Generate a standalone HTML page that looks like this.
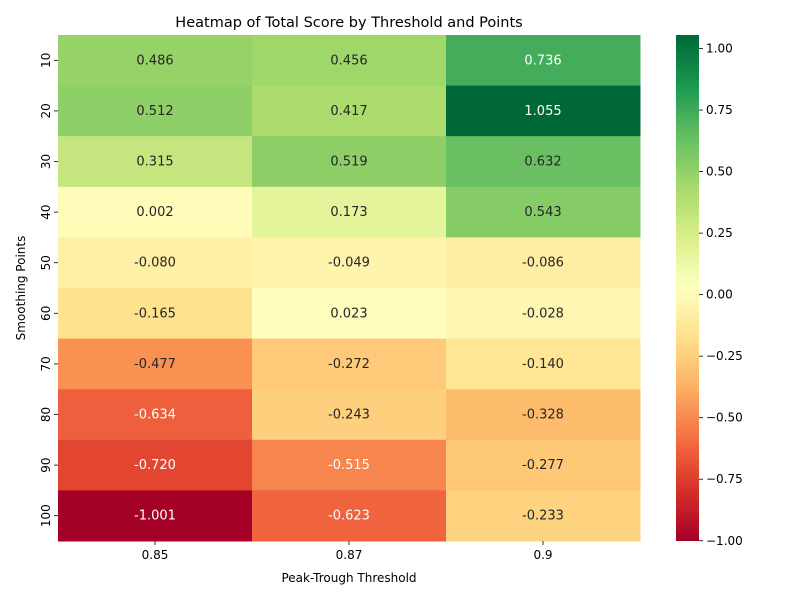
<!DOCTYPE html>
<html><head><meta charset="utf-8">
<style>
body{margin:0;background:#fff;font-family:"Liberation Sans","DejaVu Sans",sans-serif;}
svg text{font-family:"DejaVu Sans","Liberation Sans",sans-serif;}
</style></head>
<body>
<svg id="chart" width="800" height="600" xmlns="http://www.w3.org/2000/svg">
<rect width="800" height="600" fill="#fff"/>
<text x="349" y="27" font-size="14.5" text-anchor="middle">Heatmap of Total Score by Threshold and Points</text>
<text x="349" y="582" font-size="12" text-anchor="middle">Peak-Trough Threshold</text>
<text x="0" y="0" font-size="12" text-anchor="middle" transform="translate(25,288) rotate(-90)">Smoothing Points</text>
<g id="cells"></g>
<g id="xticks"></g>
<g id="yticks"></g>
<defs><linearGradient id="cbgrad" x1="0" y1="1" x2="0" y2="0"></linearGradient></defs>
<rect x="676" y="35" width="23" height="506" fill="url(#cbgrad)"/>
<g id="cbticks"></g>
</svg>
<script>
const thresholds = ["0.85","0.87","0.9"];
const points = ["10","20","30","40","50","60","70","80","90","100"];
const col085 = [0.486,0.512,0.315,0.002,-0.080,-0.165,-0.477,-0.634,-0.720,-1.001];
const col087 = [0.456,0.417,0.519,0.173,-0.049,0.023,-0.272,-0.243,-0.515,-0.623];
const col090 = [0.736,1.055,0.632,0.543,-0.086,-0.028,-0.140,-0.328,-0.277,-0.233];
const cbTicks = [1.00,0.75,0.50,0.25,0.00,-0.25,-0.50,-0.75,-1.00];

const columns=[col085,col087,col090];
const all=columns.flat();
const vmin=Math.min(...all), vmax=Math.max(...all);
const X0=58,X1=640,Y0=35,Y1=541;
const cw=(X1-X0)/thresholds.length, rh=(Y1-Y0)/points.length;
const NS="http://www.w3.org/2000/svg";
const stops=["#a50026","#d73027","#f46d43","#fdae61","#fee08b","#ffffbf","#d9ef8b","#a6d96a","#66bd63","#1a9850","#006837"].map(h=>[parseInt(h.slice(1,3),16),parseInt(h.slice(3,5),16),parseInt(h.slice(5,7),16)]);
function cmap(t){t=Math.max(0,Math.min(1,t));const p=t*10,i=Math.min(9,Math.floor(p)),f=p-i;
 return stops[i].map((c,k)=>Math.round(c+(stops[i+1][k]-c)*f));}
function lum(rgb){const c=rgb.map(v=>{v/=255;return v<=0.03928?v/12.92:Math.pow((v+0.055)/1.055,2.4)});return 0.2126*c[0]+0.7152*c[1]+0.0722*c[2];}
function mk(tag,attrs,parent){const e=document.createElementNS(NS,tag);for(const k in attrs)e.setAttribute(k,attrs[k]);parent.appendChild(e);return e;}
const xScale=i=>X0+i*cw, yScale=j=>Y0+j*rh, cbY=v=>Y1-(v-vmin)/(vmax-vmin)*(Y1-Y0);
const cells=document.getElementById('cells');
columns.forEach((col,i)=>col.forEach((v,j)=>{
 const rgb=cmap((v-vmin)/(vmax-vmin));
 const r=mk('rect',{x:xScale(i),y:yScale(j),width:cw+0.5,height:rh+0.5,fill:`rgb(${rgb})`},cells);
 
 
 const t=mk('text',{x:xScale(i)+cw/2,y:yScale(j)+rh/2+4,'font-size':13,'text-anchor':'middle',fill:lum(rgb)>0.408?'#262626':'#fff'},cells);
 t.textContent=v.toFixed(3);
 
 
}));
const xt=document.getElementById('xticks');
thresholds.forEach((l,i)=>{const x=xScale(i)+cw/2;
 mk('line',{x1:x,x2:x,y1:Y1,y2:Y1+4,stroke:'#000','stroke-width':0.8},xt);
 const t=mk('text',{x:x,y:Y1+18,'font-size':12,'text-anchor':'middle'},xt);t.textContent=l;
 
 });
const yt=document.getElementById('yticks');
points.forEach((l,j)=>{const y=yScale(j)+rh/2;
 mk('line',{x1:X0-4,x2:X0,y1:y,y2:y,stroke:'#000','stroke-width':0.8},yt);
 const t=mk('text',{x:0,y:0,'font-size':12,'text-anchor':'middle',transform:`translate(${X0-8},${y}) rotate(-90)`},yt);t.textContent=l;
 
 });
const g=document.getElementById('cbgrad');
for(let k=0;k<=50;k++){const rgb=cmap(k/50);mk('stop',{offset:(k/50),'stop-color':`rgb(${rgb})`},g);}
const cb=document.getElementById('cbticks');
cbTicks.forEach(v=>{const y=cbY(v);
 mk('line',{x1:699,x2:703,y1:y,y2:y,stroke:'#000','stroke-width':0.8},cb);
 const t=mk('text',{x:706,y:y+4,'font-size':12},cb);t.textContent=(v<0?'−':'')+Math.abs(v).toFixed(2);
 
 });
</script>
</body></html>
